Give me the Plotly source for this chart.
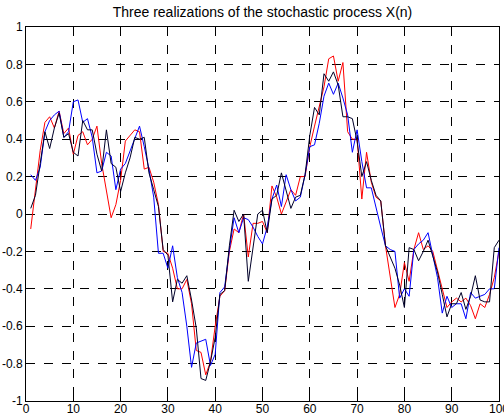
import plotly.graph_objects as go

n = list(range(1, 101))

x_black = [0.03, 0.10, 0.27, 0.44, 0.35, 0.46, 0.54, 0.41, 0.43, 0.33,
           0.31, 0.50, 0.45, 0.45, 0.32, 0.23, 0.45, 0.27, 0.25, 0.12,
           0.22, 0.30, 0.41, 0.40, 0.41, 0.22, 0.13, 0.04, -0.19, -0.22,
           -0.47, -0.35, -0.37, -0.33, -0.46, -0.61, -0.88, -0.89, -0.79, -0.66,
           -0.43, -0.41, -0.17, 0.02, -0.04, 0.00, -0.36, -0.18, 0.00, 0.02,
           -0.10, 0.08, 0.10, 0.22, 0.13, 0.03, 0.09, 0.10, 0.21, 0.42,
           0.57, 0.53, 0.75, 0.71, 0.76, 0.69, 0.52, 0.52, 0.51, 0.39,
           0.20, 0.28, 0.18, 0.10, 0.07, -0.17, -0.23, -0.29, -0.38, -0.50,
           -0.18, -0.19, -0.25, -0.20, -0.14, -0.22, -0.31, -0.43, -0.55, -0.48,
           -0.48, -0.42, -0.51, -0.44, -0.33, -0.46, -0.47, -0.47, -0.18, -0.14]

x_red = [-0.08, 0.13, 0.34, 0.49, 0.52, 0.46, 0.55, 0.43, 0.46, 0.32,
         0.42, 0.44, 0.37, 0.40, 0.47, 0.27, 0.12, -0.02, 0.05, 0.18,
         0.39, 0.42, 0.45, 0.44, 0.24, 0.25, 0.17, 0.05, -0.20, -0.21,
         -0.29, -0.40, -0.40, -0.35, -0.48, -0.73, -0.74, -0.86, -0.79, -0.60,
         -0.44, -0.41, -0.20, -0.08, -0.10, 0.00, -0.23, -0.05, -0.05, -0.04,
         -0.10, 0.15, 0.09, 0.00, 0.07, 0.13, 0.10, 0.20, 0.20, 0.36,
         0.47, 0.57, 0.68, 0.83, 0.845, 0.71, 0.81, 0.44, 0.40, 0.40,
         0.08, 0.33, 0.17, 0.09, 0.07, -0.17, -0.33, -0.50, -0.43, -0.26,
         -0.36, -0.19, -0.10, -0.19, -0.17, -0.20, -0.30, -0.40, -0.50, -0.47,
         -0.45, -0.47, -0.45, -0.49, -0.56, -0.48, -0.50, -0.43, -0.34, -0.20]

x_blue = [0.21, 0.18, 0.25, 0.44, 0.50, 0.53, 0.55, 0.41, 0.44, 0.60,
          0.61, 0.49, 0.51, 0.41, 0.22, 0.23, 0.33, 0.31, 0.13, 0.24,
          0.27, 0.34, 0.41, 0.47, 0.36, 0.24, 0.09, -0.21, -0.21, -0.29,
          -0.17, -0.34, -0.42, -0.60, -0.82, -0.69, -0.68, -0.67, -0.81, -0.75,
          -0.42, -0.39, -0.19, -0.02, -0.10, -0.02, -0.03, -0.07, -0.12, -0.16,
          -0.07, 0.08, 0.155, 0.04, 0.21, 0.13, 0.07, 0.09, 0.21, 0.36,
          0.37, 0.485, 0.63, 0.70, 0.64, 0.70, 0.62, 0.53, 0.33, 0.45,
          0.28, 0.14, 0.14, 0.03, -0.07, -0.17, -0.19, -0.20, -0.45, -0.40,
          -0.44, -0.19, -0.16, -0.14, -0.10, -0.22, -0.34, -0.53, -0.44, -0.50,
          -0.48, -0.48, -0.56, -0.42, -0.45, -0.44, -0.43, -0.40, -0.40, -0.18]

x_ticks = [0, 10, 20, 30, 40, 50, 60, 70, 80, 90, 100]
y_ticks = [-1, -0.8, -0.6, -0.4, -0.2, 0, 0.2, 0.4, 0.6, 0.8, 1]
y_tick_text = ["-1", "-0.8", "-0.6", "-0.4", "-0.2", "0", "0.2", "0.4", "0.6", "0.8", "1"]

FONT = "Liberation Sans, Arial, Helvetica, sans-serif"

fig = go.Figure()
for values, color in [(x_red, "#ff0000"), (x_blue, "#0000ff"), (x_black, "#000028")]:
    fig.add_trace(go.Scatter(x=n, y=values, mode="lines",
                             line=dict(color=color, width=1), showlegend=False))

axis_style = dict(
    showline=True, linecolor="black", linewidth=1, mirror="ticks",
    ticks="inside", ticklen=5, tickcolor="black",
    showgrid=True, gridcolor="black", gridwidth=1, griddash="dash",
    zeroline=False, ticklabeloverflow="allow", automargin=False,
    tickfont=dict(family=FONT, size=12, color="black"),
)

fig.update_xaxes(range=[0, 100], tickvals=x_ticks, ticklabelstandoff=-3, **axis_style)
fig.update_yaxes(range=[-1, 1], tickvals=y_ticks, ticktext=y_tick_text, **axis_style)

fig.update_layout(
    width=504, height=418,
    margin=dict(l=26, r=5, t=27, b=17, autoexpand=False),
    paper_bgcolor="white", plot_bgcolor="white",
    title=dict(text="Three realizations of the stochastic process X(n)",
               x=0.5, xref="paper", y=1 - 12 / 418, yanchor="middle",
               automargin=False,
               font=dict(family=FONT, size=14, color="black")),
)

fig.write_html("out.html")
